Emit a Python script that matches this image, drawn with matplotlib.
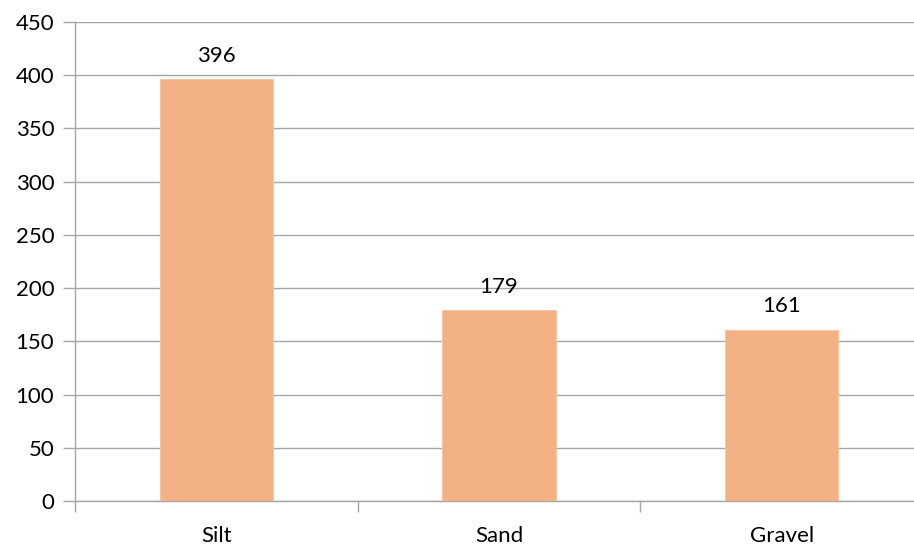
import matplotlib
matplotlib.use("Agg")
import matplotlib.pyplot as plt
import numpy as np

categories = ["Silt", "Sand", "Gravel"]
values = [396, 179, 161]
y_ticks = [0, 50, 100, 150, 200, 250, 300, 350, 400, 450]

plt.rcParams["font.family"] = ["Lato", "DejaVu Sans"]

fig = plt.figure(figsize=(9.14, 5.48), dpi=100)
ax = fig.add_axes([75 / 914, 47 / 548, 848 / 914, 479 / 548])

x = np.arange(len(categories))
bars = ax.bar(x, values, width=0.4, color="#F4B183", edgecolor="#F7C3A0", linewidth=0.6, zorder=3)

for xi, v in zip(x, values):
    ax.annotate(f"{v}", (xi, v), xytext=(0, 10), textcoords="offset points",
                ha="center", va="bottom", fontsize=16, color="#000000")

ax.set_xlim(-0.5, len(categories) - 0.5)
ax.set_ylim(0, 450)
ax.set_yticks(y_ticks)
ax.set_yticklabels([str(t) for t in y_ticks], fontsize=16, color="#000000")
ax.yaxis.grid(True, color="#A6A6A6", linewidth=1.0, zorder=0)
ax.set_axisbelow(True)

# category labels at centers, tick marks at category boundaries
ax.set_xticks(x)
ax.set_xticklabels(categories, fontsize=16, color="#000000")
ax.tick_params(axis="x", which="major", length=0, pad=18)
ax.set_xticks(np.arange(len(categories) + 1) - 0.5, minor=True)
ax.tick_params(axis="x", which="minor", length=8, width=1, color="#A6A6A6", direction="out")
ax.tick_params(axis="y", length=9, width=1, color="#A6A6A6", pad=6)

for s in ["top", "right"]:
    ax.spines[s].set_visible(False)
for s in ["left", "bottom"]:
    ax.spines[s].set_color("#A6A6A6")
    ax.spines[s].set_linewidth(1.0)

fig.savefig("out.png", dpi=100)
